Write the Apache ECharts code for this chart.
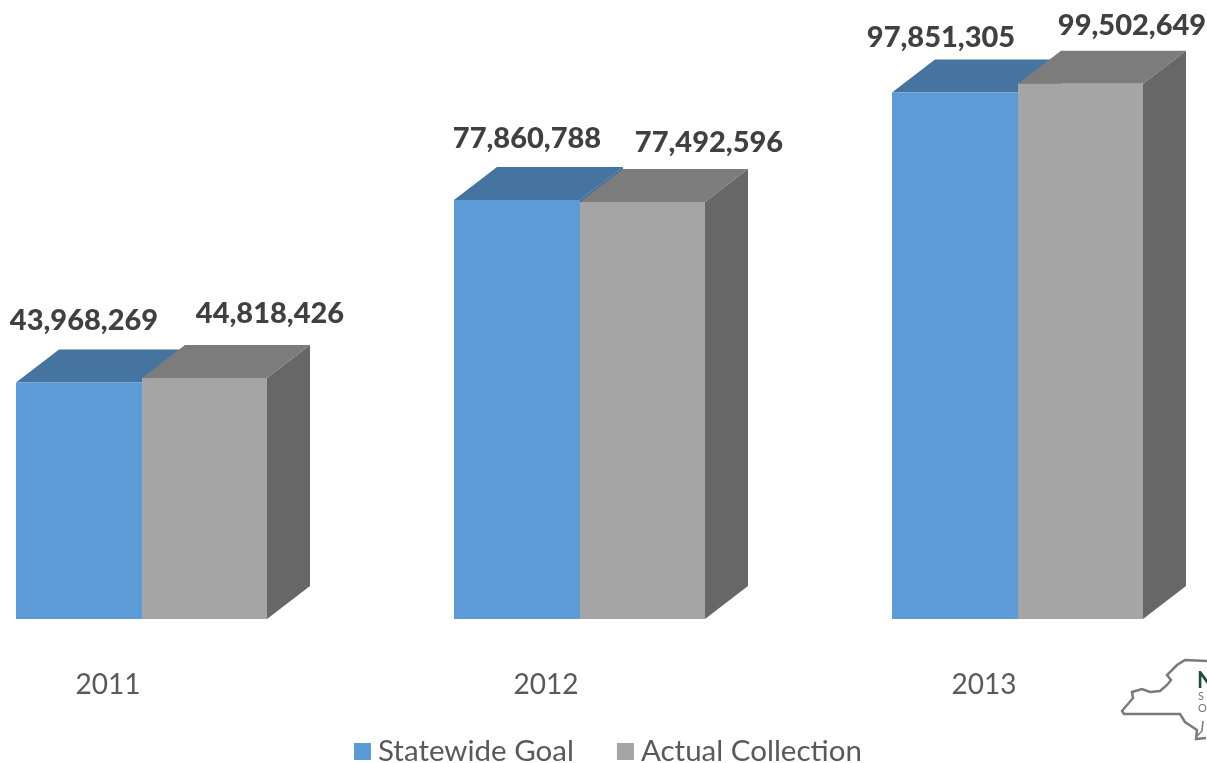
<!DOCTYPE html>
<html>
<head>
<meta charset="utf-8">
<style>html,body{margin:0;padding:0;background:#fff}#chart{width:1207px;height:763px}</style>
<script src="https://cdn.jsdelivr.net/npm/echarts@6/dist/echarts.min.js"></script>
</head>
<body>
<div id="chart"></div>
<script>
const years = ['2011', '2012', '2013'];
const statewideGoal = [43968269, 77860788, 97851305];
const actualCollection = [44818426, 77492596, 99502649];

// Hand-placed value label offsets from each bar's top-left front corner
const goalLabelNudge = [[68, -62], [73, -61], [49, -55]];
const actualLabelNudge = [[128, -64], [129, -59], [114, -58]];

const FONT = 'Lato, "Open Sans", sans-serif';
const DEPTH_X = 43, DEPTH_Y = 33;

// Draws one extruded column: side, top, front, and its value label
function columnRenderer(xShift, barWidth, faces, nudge) {
  return function (params, api) {
    const cat = api.value(0), val = api.value(1);
    const base = api.coord([cat, 0]);
    const top = api.coord([cat, val]);
    const x = base[0] + xShift, y0 = base[1], y1 = top[1];
    const r = x + barWidth;
    const poly = (points, fill) => ({ type: 'polygon', shape: { points }, style: { fill } });
    return {
      type: 'group',
      children: [
        poly([[r, y1], [r + DEPTH_X, y1 - DEPTH_Y], [r + DEPTH_X, y0 - DEPTH_Y], [r, y0]], faces.side),
        poly([[x, y1], [x + DEPTH_X, y1 - DEPTH_Y], [r + DEPTH_X, y1 - DEPTH_Y], [r, y1]], faces.top),
        { type: 'rect', shape: { x, y: y1, width: barWidth, height: y0 - y1 }, style: { fill: faces.front } },
        {
          type: 'text',
          z2: 20,
          style: {
            x: x + nudge[params.dataIndex][0],
            y: y1 + nudge[params.dataIndex][1],
            text: val.toLocaleString('en-US'),
            font: '900 29px ' + FONT,
            fill: '#404040',
            align: 'center',
            verticalAlign: 'middle'
          }
        }
      ]
    };
  };
}

// New York State outline of the agency mark in the lower right corner
const outline = [[1207,661],[1185,660],[1177,665],[1167,675],[1171,680],[1167,685],[1160,691],[1150,692],[1142,689],[1132,692],[1133,698],[1122,711],[1124,714],[1180,714],[1185,722],[1197,730],[1196,739],[1206,738]];
const hudsonMark = [[1203,721],[1202,731],[1197,736]];

const chart = echarts.init(document.getElementById('chart'));
chart.setOption({
  animation: false,
  backgroundColor: '#fff',
  grid: { left: 108, right: 223, top: 27.2, bottom: 144 },
  xAxis: {
    type: 'category',
    data: years,
    boundaryGap: false,
    axisLine: { show: false },
    axisTick: { show: false },
    axisLabel: { margin: 52, fontFamily: FONT, fontSize: 28, color: '#595959' }
  },
  yAxis: { type: 'value', min: 0, max: 110000000, show: false, splitLine: { show: false } },
  legend: {
    left: 349, top: 731.5,
    itemWidth: 17, itemHeight: 17, itemGap: 43,
    icon: 'rect',
    textStyle: { fontFamily: FONT, fontSize: 29.5, color: '#595959', padding: [0, 0, 0, 2] },
    data: ['Statewide Goal', 'Actual Collection']
  },
  graphic: [
    { type: 'polyline', shape: { points: outline }, style: { fill: 'none', stroke: '#7a7a7a', lineWidth: 2.5 } },
    { type: 'polyline', shape: { points: hudsonMark }, style: { fill: 'none', stroke: '#7a7a7a', lineWidth: 1.5 } },
    { type: 'text', x: 1197, y: 670, style: { text: 'N', font: 'bold 22px ' + FONT, fill: '#1f4d3a' } },
    { type: 'text', x: 1198, y: 691, style: { text: 'S', font: '11px ' + FONT, fill: '#777' } },
    { type: 'text', x: 1198, y: 703, style: { text: 'O', font: '11px ' + FONT, fill: '#777' } }
  ],
  series: [
    {
      name: 'Statewide Goal',
      type: 'custom',
      itemStyle: { color: '#5B9BD5' },
      encode: { x: 0, y: 1 },
      data: statewideGoal.map((v, i) => [i, v]),
      renderItem: columnRenderer(-92, 126, { front: '#5D9BD8', top: '#44749F', side: '#3F6D96' }, goalLabelNudge)
    },
    {
      name: 'Actual Collection',
      type: 'custom',
      itemStyle: { color: '#A5A5A5' },
      encode: { x: 0, y: 1 },
      data: actualCollection.map((v, i) => [i, v]),
      renderItem: columnRenderer(34, 125, { front: '#A5A5A5', top: '#7C7C7C', side: '#676767' }, actualLabelNudge)
    }
  ]
});
</script>
</body>
</html>
